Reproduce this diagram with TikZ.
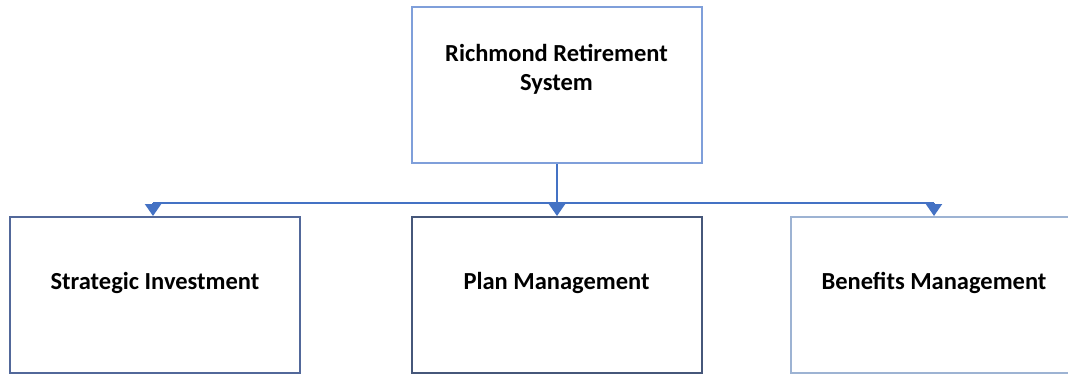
\documentclass[tikz,border=0pt]{standalone}
\usepackage{fontspec}
\setmainfont{Carlito}
\usetikzlibrary{arrows.meta}
\definecolor{conn}{HTML}{4472C4}
\definecolor{btop}{HTML}{7F9FDA}
\definecolor{bleft}{HTML}{52689A}
\definecolor{bmid}{HTML}{46577A}
\definecolor{bright}{HTML}{9DB3D3}
\tikzset{
  orgbox/.style={draw, line width=2pt, fill=white, minimum width=290pt, minimum height=156pt, anchor=north west, inner sep=0pt},
  lbl/.style={font=\bfseries\fontsize{24.5}{29}\selectfont, align=center, inner sep=0pt},
  conline/.style={draw=conn, line width=2pt},
  conarrow/.style={conline, -{Triangle[width=16pt,length=12pt]}}
}
\begin{document}
\begin{tikzpicture}[x=1pt,y=-1pt]
\useasboundingbox (0,0) rectangle (1068,373);
\node[orgbox, draw=btop] (top) at (411,6) {};
\node[lbl] (toptext) at (556.5,69) {Richmond Retirement\\System};
\node[orgbox, draw=bleft] (si) at (9,216) {};
\node[lbl] (sitext) at (155,283) {Strategic Investment};
\node[orgbox, draw=bmid] (pm) at (411,216) {};
\node[lbl] (pmtext) at (556.5,283) {Plan Management};
\node[orgbox, draw=bright] (bm) at (790,216) {};
\node[lbl] (bmtext) at (934,283) {Benefits Management};
\coordinate (busl) at (153,203);
\coordinate (busr) at (934,203);
\draw[conline] (busl) -- (busr);
\draw[conarrow] (top.south) -- (pm.north);
\draw[conarrow] (busl) -- (busl |- si.north);
\draw[conarrow] (busr) -- (busr |- bm.north);
\end{tikzpicture}
\end{document}
